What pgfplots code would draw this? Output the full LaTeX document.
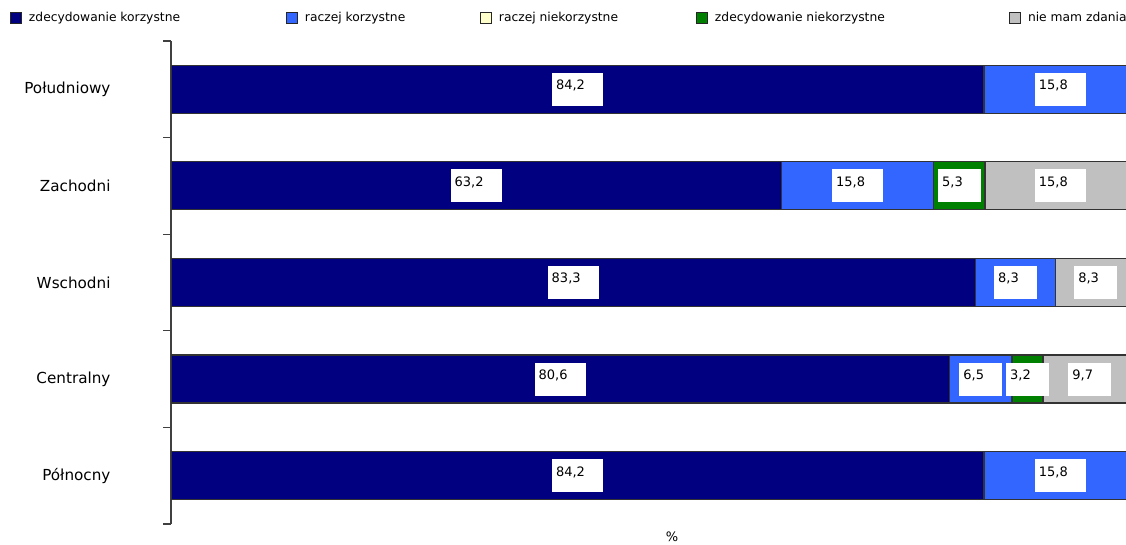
\documentclass[border=0pt]{standalone}
\usepackage{fontspec}
\setmainfont{DejaVu Sans}
\usepackage{pgfplots}
\usepackage{pgfplotstable}
\pgfplotsset{compat=1.18}

\definecolor{navy}{RGB}{0,0,128}
\definecolor{blu}{RGB}{51,102,255}
\definecolor{lightyel}{RGB}{255,255,204}
\definecolor{grn}{RGB}{0,128,0}
\definecolor{gry}{RGB}{192,192,192}

% categories bottom to top: Północny, Centralny, Wschodni, Zachodni, Południowy
\pgfplotstableread{
y a b c d e
0 84.2 15.8 0 0 0
1 80.6 6.5 0 3.2 9.7
2 83.3 8.3 0 0 8.3
3 63.2 15.8 0 5.3 15.8
4 84.2 15.8 0 0 0
}\data

% segment centres for the value boxes
\pgfplotstableread{
y cx lab
4 42.1 84,2
4 92.1 15,8
3 31.6 63,2
3 71.1 15,8
3 81.65 5,3
3 92.1 15,8
2 41.65 83,3
2 87.45 8,3
2 95.75 8,3
1 40.3 80,6
1 83.85 6,5
1 88.7 3,2
1 95.15 9,7
0 42.1 84,2
0 92.1 15,8
}\labels

\pgfplotsset{
  legsq/.style={legend image code/.code={
      \draw[##1,draw=black!85,line width=0.8pt] (0pt,-5.5pt) rectangle (11pt,5.5pt);
      \path (18pt,0pt);}},
  common/.style={
    at={(171pt,21pt)}, anchor=south west,
    scale only axis, width=955pt, height=483pt,
    xmin=0, xmax=98.9, ymin=-0.5, ymax=4.5},
}

\begin{document}
\begin{tikzpicture}
\useasboundingbox (0,0) rectangle (1126pt,545pt);
\begin{axis}[
    common,
    xbar stacked,
    bar width=48pt,
    axis y line*=left,
    hide x axis,
    axis line style={black!75, line width=1.2pt},
    ytick={0,1,2,3,4},
    yticklabels={Północny,Centralny,Wschodni,Zachodni,Południowy},
    minor ytick={-0.5,0.5,1.5,2.5,3.5,4.5},
    tick align=outside,
    major tick length=0pt,
    minor tick length=8pt,
    minor tick style={black!75, line width=1.2pt},
    yticklabel style={anchor=east, xshift=-57pt, font=\fontsize{15.2}{18}\selectfont},
    every axis plot/.append style={draw=black!80, line width=1.2pt},
    legend columns=5,
    legend style={at={(0,1)}, anchor=west, xshift=-161pt, yshift=23pt,
      draw=none, fill=none, inner sep=0pt, outer sep=0pt,
      column sep=0pt, nodes={inner sep=0pt},
      font=\fontsize{12.3}{14}\selectfont},
]
\addplot[fill=navy, legsq] table[x=a, y=y] {\data};
\addlegendentry{\makebox[257pt][l]{zdecydowanie korzystne}}
\addplot[fill=blu, legsq] table[x=b, y=y] {\data};
\addlegendentry{\makebox[175pt][l]{raczej korzystne}}
\addplot[fill=lightyel, legsq] table[x=c, y=y] {\data};
\addlegendentry{\makebox[197pt][l]{raczej niekorzystne}}
\addplot[fill=grn, legsq] table[x=d, y=y] {\data};
\addlegendentry{\makebox[294pt][l]{zdecydowanie niekorzystne}}
\addplot[fill=gry, legsq] table[x=e, y=y] {\data};
\addlegendentry{nie mam zdania}
\end{axis}

\begin{axis}[common, hide axis, clip=false]
\addplot[draw=none, mark=none,
  nodes near coords={\hspace*{4pt}\pgfplotspointmeta\hspace*{18pt}},
  point meta=explicit symbolic,
  nodes near coords style={fill=white, anchor=center, inner xsep=0pt, inner ysep=0pt,
    text height=17pt, text depth=16pt, font=\fontsize{13}{15}\selectfont}]
  table[x=cx, y=y, meta=lab] {\labels};
\end{axis}

\node[font=\fontsize{13}{15}\selectfont] at (672pt,8pt) {\%};
\end{tikzpicture}
\end{document}
